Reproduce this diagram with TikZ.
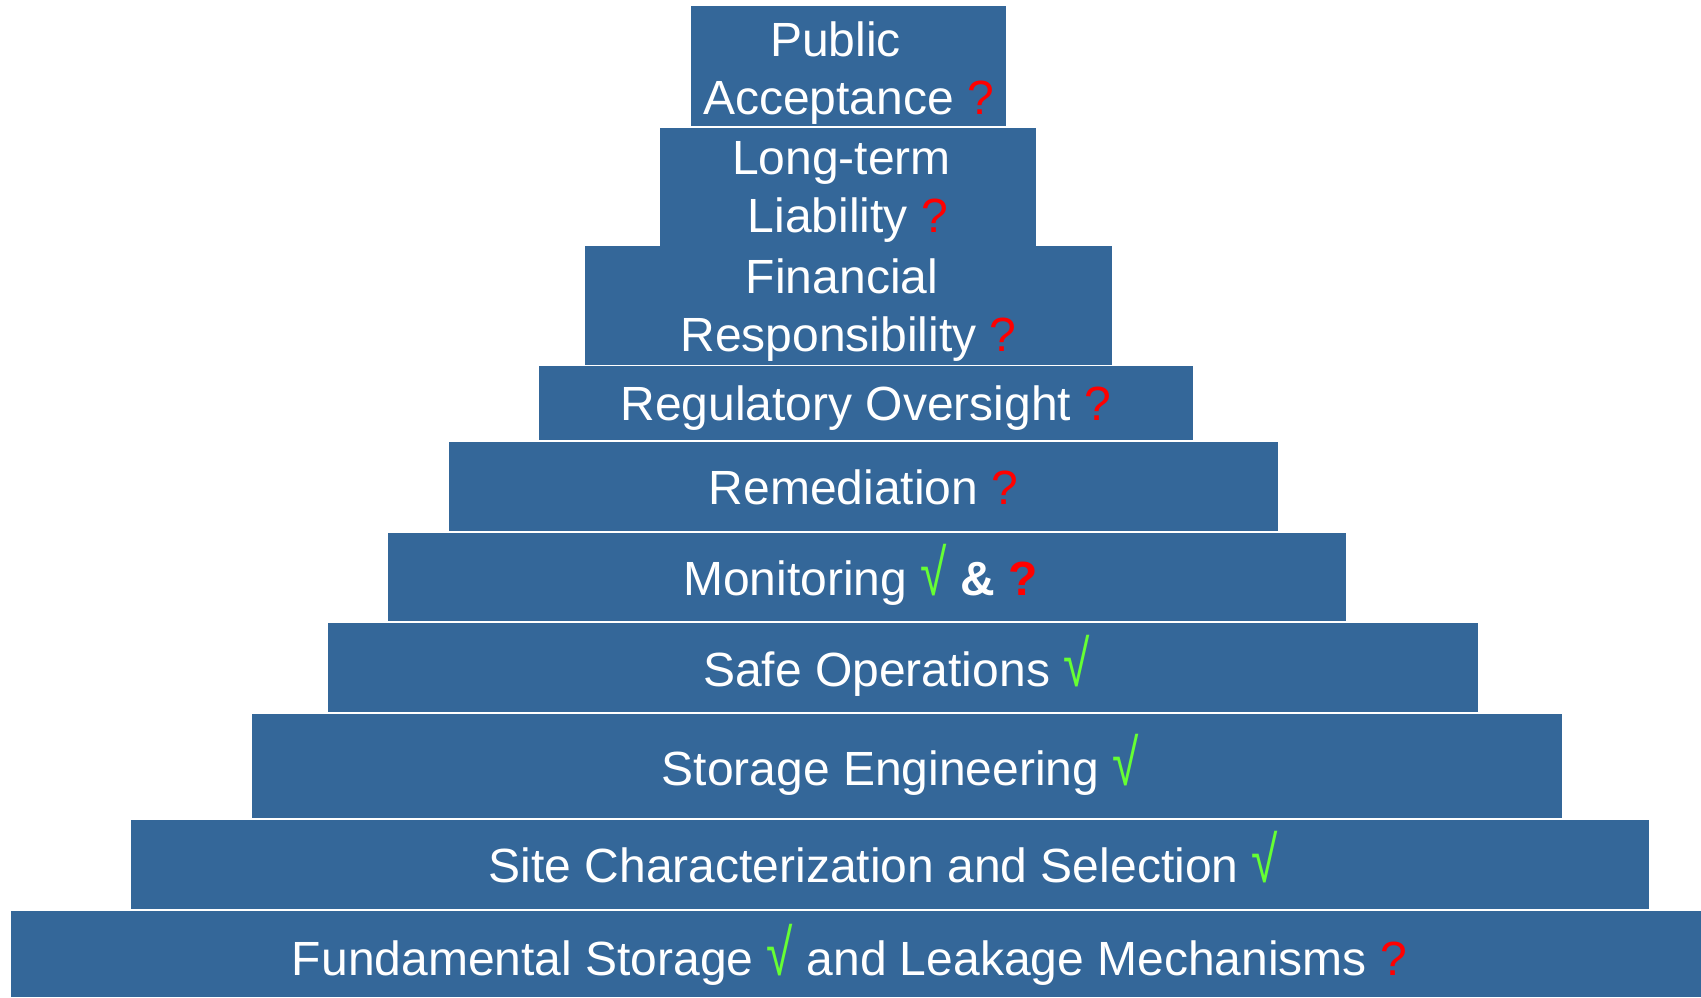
\documentclass[tikz,border=0pt]{standalone}
\usepackage{graphicx}
\usepackage{fontspec}
\setmainfont{Liberation Sans}
\definecolor{tierblue}{RGB}{52,103,153}
\definecolor{okgreen}{RGB}{102,255,51}
\definecolor{qred}{RGB}{255,0,0}
\newcommand{\okmark}{\textcolor{okgreen}{\scalebox{1}[1.35]{√}}}
\newcommand{\qmark}{\textcolor{qred}{?}}
\begin{document}
\begin{tikzpicture}[x=1pt,y=-1pt,
  tierbox/.style={fill=tierblue, draw=none, inner sep=0pt},
  tiertext/.style={text=white, align=center, anchor=base, inner sep=0pt,
    font=\fontsize{48}{58}\selectfont}]
\useasboundingbox (0,0) rectangle (1701,997);
% the ten tiers, top to bottom
\node[tierbox, minimum width=315pt,  minimum height=120pt] (acceptance)  at (848.5,66)   {};
\node[tierbox, minimum width=376pt,  minimum height=119pt] (liability)   at (848,187.5)  {};
\node[tierbox, minimum width=527pt,  minimum height=119pt] (finance)     at (848.5,305.5) {};
\node[tierbox, minimum width=654pt,  minimum height=74pt]  (oversight)   at (866,403)    {};
\node[tierbox, minimum width=829pt,  minimum height=89pt]  (remediation) at (863.5,486.5) {};
\node[tierbox, minimum width=958pt,  minimum height=88pt]  (monitoring)  at (867,577)    {};
\node[tierbox, minimum width=1150pt, minimum height=89pt]  (safeops)     at (903,667.5)  {};
\node[tierbox, minimum width=1310pt, minimum height=104pt] (engineering) at (907,766)    {};
\node[tierbox, minimum width=1518pt, minimum height=89pt]  (sitechar)    at (890,864.5)  {};
\node[tierbox, minimum width=1690pt, minimum height=86pt]  (fundamental) at (856,954)    {};
% tier labels, placed on the baseline of their last line
\node[tiertext] (acceptance-label)  at (848.5,114)  {Public\hspace*{26pt}\\Acceptance \qmark};
\node[tiertext] (liability-label)   at (848,232.7)  {Long-term\hspace*{13pt}\\Liability \qmark};
\node[tiertext] (finance-label)     at (848.5,351.7) {Financial\hspace*{13pt}\\Responsibility \qmark};
\node[tiertext] (oversight-label)   at (866,420.7)  {Regulatory Oversight \qmark};
\node[tiertext] (remediation-label) at (863.5,504.3) {Remediation \qmark};
\node[tiertext] (monitoring-label)  at (860.5,595.7) {Monitoring \okmark{} \textbf{\& \qmark}};
\node[tiertext] (safeops-label)     at (896.5,686.7) {Safe Operations \okmark};
\node[tiertext] (engineering-label) at (900.5,785)   {Storage Engineering \okmark};
\node[tiertext] (sitechar-label)    at (883.5,882.7) {Site Characterization and Selection \okmark};
\node[tiertext] (fundamental-label) at (849.5,975)   {Fundamental Storage \okmark{} and Leakage Mechanisms \qmark};
\end{tikzpicture}
\end{document}
